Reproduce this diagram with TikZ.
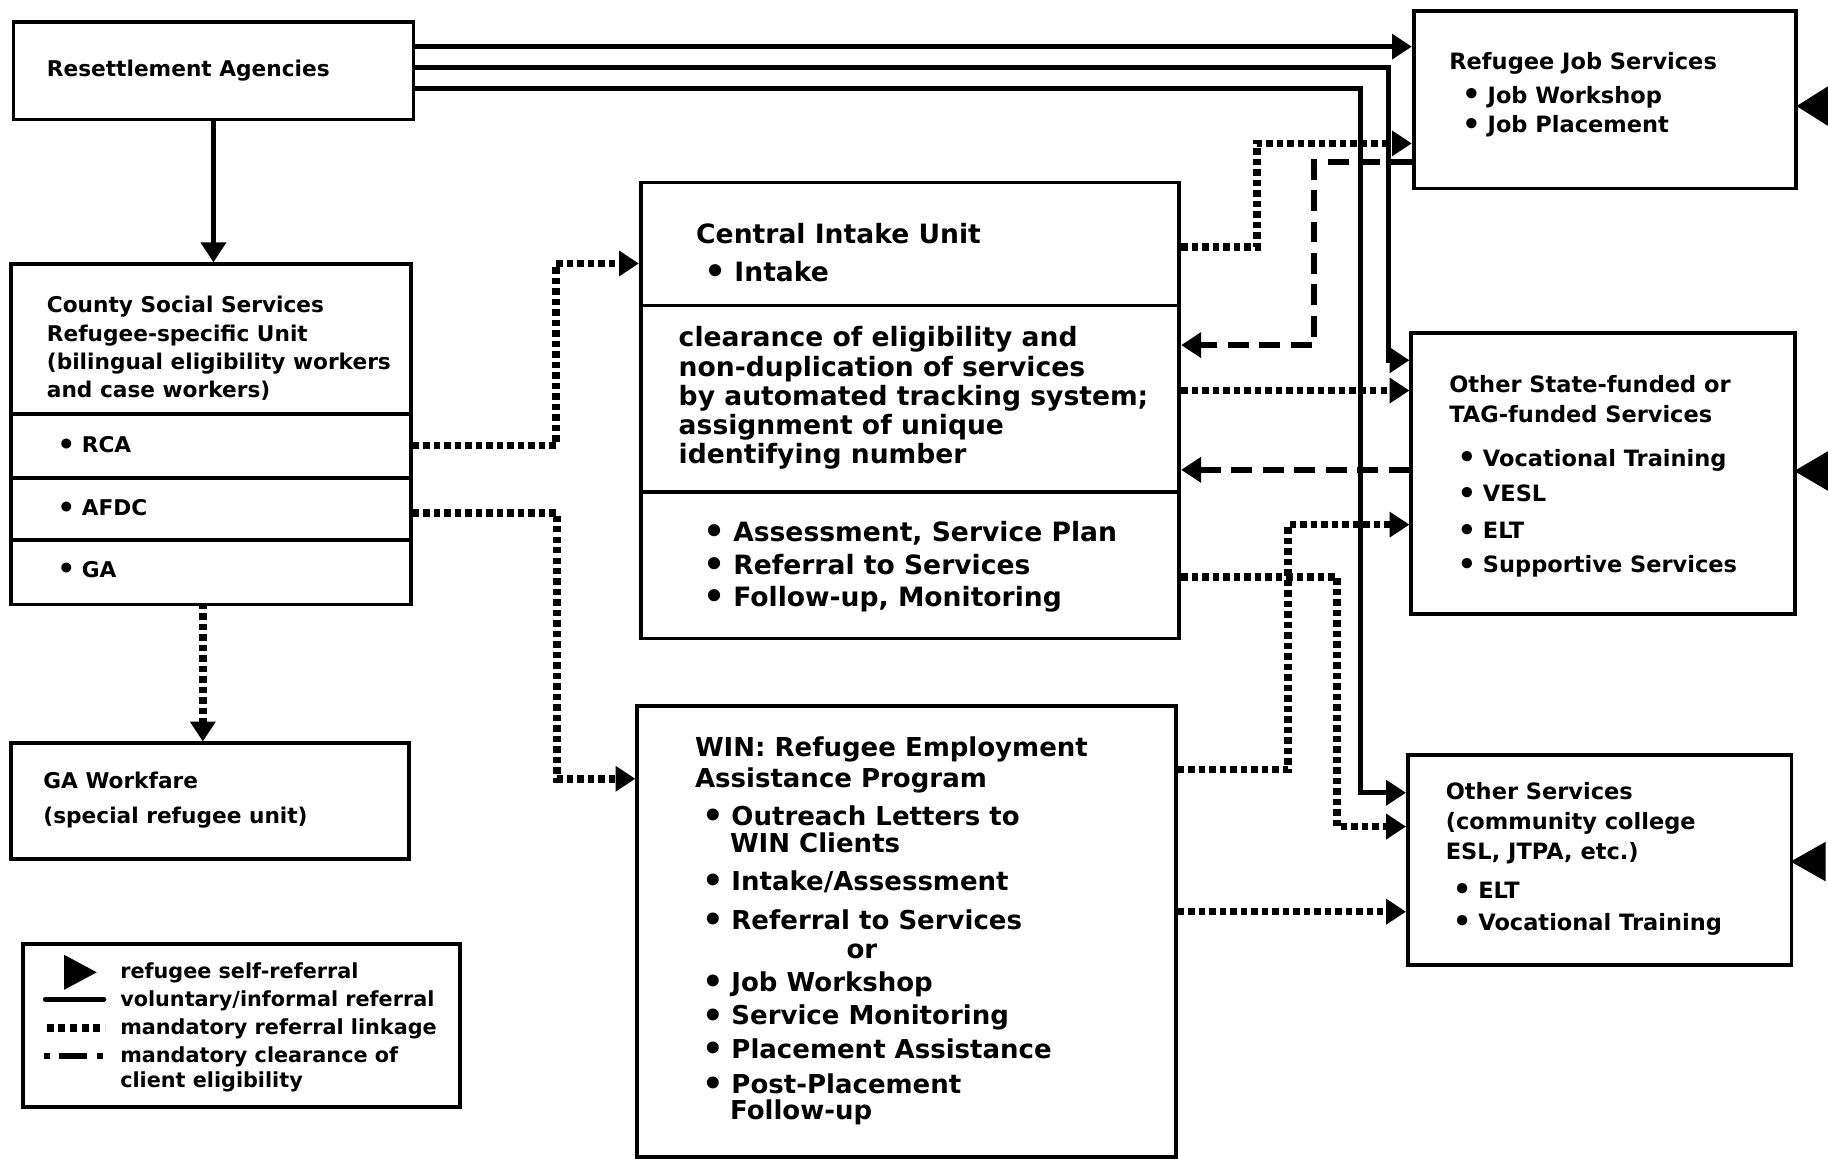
\documentclass[tikz,border=0pt]{standalone}
\usepackage{fontspec}
\usepackage{graphicx}
\setmainfont{DejaVu Sans}
\usetikzlibrary{arrows.meta}
\newcommand\blt{\raisebox{-0.08em}{\scalebox{1.3}{\textbullet}}\hspace{0.3em}}
\begin{document}
\begin{tikzpicture}[x=1pt,y=-1pt,
  box/.style={draw, line width=3.2pt, inner sep=0pt, anchor=north west},
  tx/.style={anchor=north west, inner sep=0pt, align=left},
  fA/.style={font=\bfseries\fontsize{18.6}{24.3}\selectfont},
  fL/.style={font=\bfseries\fontsize{17.8}{24}\selectfont},
  fR/.style={font=\bfseries\fontsize{19.3}{25.5}\selectfont},
  fC/.style={font=\bfseries\fontsize{22.8}{25}\selectfont},
  fW/.style={font=\bfseries\fontsize{22.3}{25}\selectfont},
  tipA/.style={-{Triangle[length=17pt,width=21pt]}},
  vol/.style={line width=4.5pt, tipA},
  mand/.style={line width=6.5pt, dash pattern=on 5.5pt off 3.5pt, tipA},
  clr/.style={line width=5pt, dash pattern=on 18pt off 9pt, tipA},
  divider/.style={line width=3.2pt},
]
\useasboundingbox (0,0) rectangle (1568,994);

% ---------- boxes ----------
\node[box, minimum width=343pt, minimum height=84pt]  (ra)  at (10,17)   {};
\node[box, minimum width=343pt, minimum height=292pt] (cs)  at (8,225)   {};
\node[box, minimum width=341pt, minimum height=99pt]  (ga)  at (8,636)   {};
\node[box, minimum width=375pt, minimum height=140pt] (leg) at (18,808)  {};
\node[box, minimum width=462pt, minimum height=391pt] (ciu) at (548,155) {};
\node[box, minimum width=462pt, minimum height=387pt] (win) at (545,604) {};
\node[box, minimum width=328pt, minimum height=152pt] (rjs) at (1211,8)  {};
\node[box, minimum width=329pt, minimum height=241pt] (osf) at (1209,284) {};
\node[box, minimum width=329pt, minimum height=180pt] (os)  at (1206,646) {};

% section rules inside the county and intake boxes
\draw[divider] (cs.west |- 0,355) -- (cs.east |- 0,355);
\draw[divider] (cs.west |- 0,410) -- (cs.east |- 0,410);
\draw[divider] (cs.west |- 0,463) -- (cs.east |- 0,463);
\draw[divider] (ciu.west |- 0,262) -- (ciu.east |- 0,262);
\draw[divider] (ciu.west |- 0,422) -- (ciu.east |- 0,422);

% ---------- texts ----------
\node[tx, fA] (ra-t) at (40,51) {Resettlement Agencies};
\node[tx, fA] (cs-t) at (40,254) {County Social Services\\Refugee-specific Unit\\(bilingual eligibility workers\\and case workers)};
\node[tx, fA] (cs-rca)  at (49,374) {\blt RCA};
\node[tx, fA] (cs-afdc) at (49,428) {\blt AFDC};
\node[tx, fA] (cs-ga)   at (49,481) {\blt GA};
\node[tx, fA] (ga-t) at (37,662) {GA Workfare\\[6pt](special refugee unit)};

\node[tx, fC] (ciu-t) at (597,191) {Central Intake Unit\\[8pt]\hspace*{7pt}\blt Intake};
\node[tx, fC] (ciu-m) at (582,280) {clearance of eligibility and\\non-duplication of services\\by automated tracking system;\\assignment of unique\\identifying number};
\node[tx, fC] (ciu-b) at (603,447) {\blt Assessment, Service Plan\\[3pt]\blt Referral to Services\\[3pt]\blt Follow-up, Monitoring};

\node[tx, fW] (win-t) at (596,632) {WIN: Refugee Employment\\[1pt]
  Assistance Program\\[8pt]
  \hspace*{6pt}\blt Outreach Letters to\\[-2pt]
  \hspace*{30pt}WIN Clients\\[8pt]
  \hspace*{6pt}\blt Intake/Assessment\\[8pt]
  \hspace*{6pt}\blt Referral to Services\\[0pt]
  \hspace*{130pt}or\\[3pt]
  \hspace*{6pt}\blt Job Workshop\\[4pt]
  \hspace*{6pt}\blt Service Monitoring\\[4pt]
  \hspace*{6pt}\blt Placement Assistance\\[5pt]
  \hspace*{6pt}\blt Post-Placement\\[-3pt]
  \hspace*{30pt}Follow-up};

\node[tx, fR] (rjs-t) at (1243,45) {Refugee Job Services\\[3pt]
  \hspace*{11pt}\blt Job Workshop\\
  \hspace*{11pt}\blt Job Placement};
\node[tx, fR] (osf-t) at (1243,322) {Other State-funded or\\
  TAG-funded Services\\[12pt]
  \hspace*{7pt}\blt Vocational Training\\[5pt]
  \hspace*{7pt}\blt VESL\\[6pt]
  \hspace*{7pt}\blt ELT\\[4pt]
  \hspace*{7pt}\blt Supportive Services};
\node[tx, fR] (os-t) at (1240,671) {Other Services\\
  (community college\\
  ESL, JTPA, etc.)\\[8pt]
  \hspace*{6pt}\blt ELT\\[2pt]
  \hspace*{6pt}\blt Vocational Training};

% ---------- legend ----------
\node[tx, fL] (leg-t) at (103,826) {refugee self-referral\\voluntary/informal referral\\mandatory referral linkage\\mandatory clearance of\\[-3pt]client eligibility};
\fill (55,819) -- (83,834) -- (55,849) -- cycle;
\draw[line width=4.5pt, line cap=round] (39,857) -- (89,857);
\draw[line width=7pt, dash pattern=on 6pt off 4pt] (40,882) -- (90,882);
\draw[line width=5pt, dash pattern=on 5pt off 8pt on 24pt off 8pt] (38,906) -- (88,906);

% ---------- self-referral markers ----------
\fill (1541,91) -- (1568,74) -- (1568,108) -- cycle;
\fill (1539,404) -- (1568,387) -- (1568,421) -- cycle;
\fill (1536,739) -- (1566,722) -- (1566,756) -- cycle;

% ---------- voluntary / informal referrals ----------
\draw[vol] (ra.south) -- (ra.south |- cs.north);
\draw[vol] (ra.east |- 0,40) -- (rjs.west |- 0,40);
\draw[vol] (ra.east |- 0,58) -| (1191,309) -- (osf.west |- 0,309);
\draw[vol] (ra.east |- 0,76) -| (1167,680) -- (os.west |- 0,680);

% ---------- mandatory referral linkages ----------
\draw[mand] (cs.east |- 0,382) -| (477,226) -- (ciu.west |- 0,226);
\draw[mand] (cs.east |- 0,440) -| (478,668) -- (win.west |- 0,668);
\draw[mand] (174,517) -- (174,636);
\draw[mand] (ciu.east |- 0,212) -| (1078,123) -- (rjs.west |- 0,123);
\draw[mand] (ciu.east |- 0,335) -- (osf.west |- 0,335);
\draw[mand] (ciu.east |- 0,495) -| (1147,709) -- (os.west |- 0,709);
\draw[mand] (win.east |- 0,660) -| (1105,450) -- (osf.west |- 0,450);
\draw[mand] (win.east |- 0,782) -- (os.west |- 0,782);

% ---------- mandatory clearance of eligibility ----------
\draw[clr] (rjs.west |- 0,139) -| (1127,296) -- (ciu.east |- 0,296);
\draw[clr] (osf.west |- 0,403) -- (ciu.east |- 0,403);
\end{tikzpicture}
\end{document}
